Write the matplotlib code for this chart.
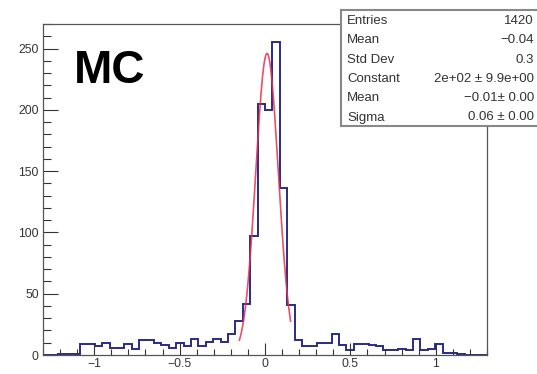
import numpy as np
import matplotlib
matplotlib.use("Agg")
import matplotlib.pyplot as plt
from matplotlib.ticker import MultipleLocator

# ---- data ----
x_min, x_max = -1.3, 1.3
n_bins = 60
counts = [0, 0, 1, 1, 1, 9, 9, 7, 10, 6,
          6, 9, 5, 12, 12, 10, 8, 6, 10, 7,
          13, 7, 11, 13, 11, 17, 28, 42, 97, 205,
          200, 255, 136, 41, 12, 7, 7, 10, 10, 17,
          8, 4, 9, 9, 8, 7, 4, 4, 5, 4,
          13, 4, 5, 9, 2, 2, 1, 0, 0, 0]
fit_const, fit_mean, fit_sigma = 246.0, 0.012, 0.066
fit_range = (-0.15, 0.15)
y_ticks = [0, 50, 100, 150, 200, 250]
x_ticks = [-1, -0.5, 0, 0.5, 1]
x_tick_labels = ["\u22121", "\u22120.5", "0", "0.5", "1"]
stats_labels = ["Entries", "Mean", "Std Dev", "Constant", "Mean", "Sigma"]
stats_values = ["1420", "\u22120.04", "0.3", "2e+02 \u00b1 9.9e+00", "\u22120.01\u00b1 0.00", "0.06 \u00b1 0.00"]

W, H = 537, 374
fig = plt.figure(figsize=(W / 100, H / 100), dpi=100)
plt.rcParams['font.family'] = ['Liberation Sans', 'DejaVu Sans']

ax = fig.add_axes([43 / W, (H - 355) / H, (487 - 43) / W, (355 - 24) / H])
edges = np.linspace(x_min, x_max, n_bins + 1)
ax.stairs(counts, edges, color="#2a2a8a", lw=1.4, baseline=None)
xf = np.linspace(fit_range[0], fit_range[1], 300)
ax.plot(xf, fit_const * np.exp(-0.5 * ((xf - fit_mean) / fit_sigma) ** 2),
        color="#e8304a", lw=1.2, alpha=0.85)

ax.set_xlim(x_min, x_max)
ax.set_ylim(0, 270)
ax.set_xticks(x_ticks)
ax.set_xticklabels(x_tick_labels)
ax.set_yticks(y_ticks)
ax.xaxis.set_minor_locator(MultipleLocator(0.1))
ax.yaxis.set_minor_locator(MultipleLocator(10))
ax.tick_params(which="both", direction="in", top=False, right=False,
               labelsize=8.8, colors="#333333", width=0.8)
ax.tick_params(which="major", axis="x", length=9)
ax.tick_params(which="minor", axis="x", length=4.5)
ax.tick_params(which="major", axis="y", length=11)
ax.tick_params(which="minor", axis="y", length=5.5)
ax.tick_params(axis="x", pad=2)
ax.tick_params(axis="y", pad=3)
for s in ax.spines.values():
    s.set_color("#555555")
    s.set_linewidth(0.9)

# MC label
fig.text(74 / W, 1 - 83 / H, "MC", fontsize=33, fontweight="bold", color="black",
         ha="left", va="baseline")

# stats box
box = plt.Rectangle((341 / W, 1 - 126 / H), (540 - 341) / W, (126 - 10) / H,
                    transform=fig.transFigure, facecolor="white",
                    edgecolor="#888888", lw=1.5, zorder=5)
fig.add_artist(box)
for i, (lab, val) in enumerate(zip(stats_labels, stats_values)):
    y = 1 - (21 + i * 19.3) / H
    fig.text(347 / W, y, lab, fontsize=9.5, ha="left", va="center", color="#333333", zorder=6)
    fig.text(534 / W, y, val, fontsize=9.5, ha="right", va="center", color="#333333", zorder=6)

fig.savefig("out.png", dpi=100)
